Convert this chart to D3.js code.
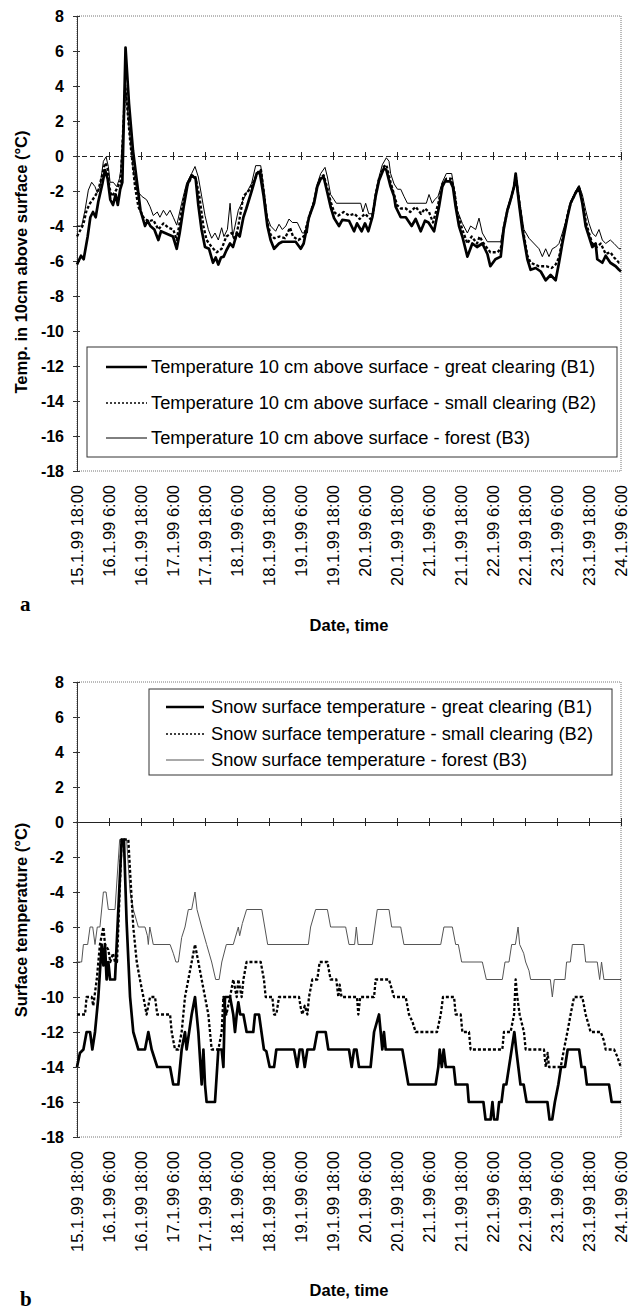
<!DOCTYPE html>
<html><head><meta charset="utf-8">
<script src="https://cdn.jsdelivr.net/npm/d3@7"></script>
<style>
body{margin:0;background:#fff}
svg text{font-family:"Liberation Sans",Arial,Helvetica,sans-serif;fill:#000}
</style>
</head><body>
<svg id="fig" width="632" height="1310"></svg>
<script>
// ---------- DATA ----------
const categories = ["15.1.99 18:00","16.1.99 6:00","16.1.99 18:00","17.1.99 6:00","17.1.99 18:00","18.1.99 6:00","18.1.99 18:00","19.1.99 6:00","19.1.99 18:00","20.1.99 6:00","20.1.99 18:00","21.1.99 6:00","21.1.99 18:00","22.1.99 6:00","22.1.99 18:00","23.1.99 6:00","23.1.99 18:00","24.1.99 6:00"];
const categoryHours = [0,12,24,36,48,60,72,84,96,108,120,132,144,156,168,180,192,204]; // hours after 15.1.99 18:00
const yTickValues = [8,6,4,2,0,-2,-4,-6,-8,-10,-12,-14,-16,-18];

const legendA = ["Temperature 10 cm above surface - great clearing (B1)","Temperature 10 cm above surface - small clearing (B2)","Temperature 10 cm above surface - forest (B3)"];
const legendB = ["Snow surface temperature - great clearing (B1)","Snow surface temperature - small clearing (B2)","Snow surface temperature - forest (B3)"];

// [hour, °C]  air temperature 10 cm above surface
const airB1 = [[0,-6.2],[1.5,-5.7],[2.5,-5.9],[4,-4.6],[5,-3.5],[6,-3.2],[7,-3.5],[8,-2.6],[9.5,-1.6],[10.5,-0.8],[11.5,-1.3],[12.5,-2.5],[13.5,-2.8],[14.5,-2.2],[15.3,-2.8],[16.2,-1.9],[17,-1.5],[18.2,6.2],[19.5,3.0],[21,0.3],[22.5,-1.5],[23.8,-3.1],[25.5,-4.0],[26.5,-3.7],[27.5,-4.0],[29,-4.2],[30.5,-4.8],[31.5,-4.3],[33,-4.4],[34.5,-4.5],[36,-4.6],[37.4,-5.3],[38.5,-4.4],[40,-2.9],[41.5,-1.6],[43,-1.1],[44.5,-1.3],[45.5,-2.8],[46.7,-4.2],[48,-5.2],[49.5,-5.3],[51,-6.1],[52,-5.8],[53,-6.2],[54,-5.8],[55,-5.75],[56,-5.4],[57.4,-5.0],[58.5,-5.2],[60,-4.4],[61,-4.6],[62.4,-3.5],[63.5,-3.0],[65.5,-2.0],[67.4,-1.0],[68.5,-0.9],[70,-2.3],[71.4,-4.0],[72.6,-4.8],[73.9,-5.3],[75.75,-5.0],[77,-4.9],[82,-4.9],[83.9,-5.3],[85,-5.0],[87,-3.5],[88.9,-2.7],[90.1,-1.75],[91.4,-1.3],[92.5,-1.2],[93.9,-2.1],[95.1,-2.9],[96.4,-3.55],[98.25,-4.0],[99.5,-3.65],[102,-3.7],[103.9,-4.3],[105,-3.85],[106.75,-4.3],[108,-3.85],[109.25,-4.3],[110.75,-3.5],[112,-2.3],[113.25,-1.4],[115.1,-0.7],[116,-0.8],[117.6,-1.75],[118.9,-2.3],[119.5,-2.9],[121.4,-3.5],[123.3,-3.5],[125.5,-4.0],[127,-3.6],[128.9,-4.3],[130.5,-3.7],[131.8,-3.8],[133.9,-4.3],[135.75,-2.9],[137,-1.75],[138,-1.45],[140,-1.45],[141,-1.8],[142,-2.9],[143.25,-4.0],[144.5,-4.6],[146.4,-5.75],[148.25,-5.0],[150,-5.2],[152,-5.0],[153.9,-5.6],[155,-6.3],[156.9,-5.9],[158.9,-5.75],[160,-4.2],[161.4,-3.1],[162.6,-2.5],[163.9,-1.75],[164.5,-1.0],[165.75,-2.7],[167,-4.2],[168.9,-5.9],[170.1,-6.5],[172,-6.4],[173.9,-6.6],[175.75,-7.1],[177.6,-6.8],[179.5,-7.1],[180.75,-6.1],[182,-5.0],[183.9,-3.5],[185.1,-2.7],[187,-2.1],[188.25,-1.8],[189.5,-2.7],[190.75,-4.0],[192,-4.6],[193.25,-5.2],[194.5,-5.0],[195.1,-5.9],[197,-6.1],[198.25,-5.7],[200,-6.1],[202,-6.3],[203.25,-6.5],[204,-6.6]];
const airB2 = [[0,-4.6],[2.4,-3.9],[3.6,-3.1],[4.9,-2.7],[6.75,-2.3],[8,-1.95],[9.25,-1.2],[10.5,-0.4],[11.4,-0.6],[12.1,-1.75],[13,-2.3],[14.1,-2.1],[15.4,-1.75],[16.4,-1.4],[18.1,4.05],[19.9,0.9],[21.75,-1.75],[23,-2.9],[24.9,-3.5],[26.75,-3.75],[28.6,-3.65],[30.5,-4.2],[32.4,-3.85],[34.25,-4.1],[36.1,-4.2],[37.4,-4.8],[39.25,-3.1],[41.1,-1.75],[43,-1.2],[44.25,-1.1],[45.9,-2.3],[47.4,-4.0],[48.6,-4.8],[50.5,-5.2],[52.4,-5.5],[54.25,-5.3],[56,-4.6],[58,-4.4],[59.25,-4.8],[60.5,-4.0],[62.4,-2.3],[64.9,-1.9],[66.75,-1.3],[68,-0.9],[69,-0.8],[70,-2.0],[71.4,-3.8],[72.6,-4.5],[74,-4.7],[76,-4.6],[78,-4.7],[79.9,-4.1],[81,-4.6],[83,-4.8],[85,-4.6],[87,-3.5],[88.9,-2.6],[90.1,-1.7],[91.4,-1.2],[92.5,-1.1],[94,-1.9],[95.1,-2.6],[96.4,-3.2],[98,-3.4],[100,-3.2],[102,-3.4],[104,-3.3],[106,-3.6],[108,-3.3],[110,-3.6],[111,-3.3],[112,-2.2],[113.25,-1.3],[115.1,-0.6],[116,-0.5],[117.6,-1.5],[118.9,-2.2],[120,-2.8],[121.4,-3.0],[123.3,-3.0],[125,-3.2],[127,-2.9],[129,-3.3],[130.5,-3.0],[132,-3.2],[133.5,-3.8],[135.5,-2.7],[137,-1.6],[138.5,-1.3],[140.3,-1.3],[141.5,-2.0],[142.6,-3.2],[144.5,-4.2],[146.4,-5.0],[148,-4.6],[150,-5.0],[151,-4.6],[152.5,-5.0],[155,-5.5],[157.7,-5.5],[158.9,-5.3],[160,-4.1],[161.4,-3.1],[162.6,-2.5],[163.9,-1.75],[164.5,-1.1],[165.75,-2.5],[167,-4.0],[168.9,-5.7],[170.1,-6.1],[173.25,-6.3],[176,-6.3],[178,-6.4],[179.5,-6.2],[180.75,-5.8],[182,-4.8],[183.9,-3.4],[185.1,-2.7],[187,-2.1],[188.25,-1.75],[189.5,-2.5],[190.75,-3.7],[192,-4.4],[193.25,-5.0],[195,-5.2],[196.4,-5.0],[198.25,-5.6],[200,-5.5],[201.4,-5.8],[203.25,-6.1],[204,-6.1]];
const airB3 = [[0,-4.0],[1.75,-4.0],[3,-3.1],[4.25,-1.95],[5.5,-1.5],[6.75,-1.75],[7.6,-2.1],[8.6,-1.75],[9.9,-0.3],[10.9,-0.05],[11.75,-0.6],[12.4,-1.5],[13.6,-1.5],[14.9,-1.75],[15.9,-1.3],[16.4,-0.8],[18.1,4.15],[19.6,1.5],[21.1,-0.8],[22.4,-1.95],[24.25,-2.3],[26.1,-2.5],[27.4,-2.9],[28.6,-3.4],[30.1,-3.2],[31.1,-3.5],[32.4,-3.1],[33.6,-3.4],[34.9,-3.1],[36.1,-3.5],[37.4,-3.95],[39.25,-2.7],[41.1,-1.55],[43,-1.0],[44.25,-0.6],[45.5,-1.2],[46.75,-2.3],[48,-3.4],[49.25,-4.2],[50.5,-4.7],[51.75,-4.4],[53,-4.8],[54.25,-4.1],[55.1,-4.6],[56.4,-4.2],[57.4,-2.7],[58.4,-4.6],[59.25,-4.0],[60.5,-3.1],[61.75,-2.7],[63.6,-2.1],[65.5,-1.55],[67,-0.55],[68.9,-0.55],[70,-1.8],[71.4,-3.5],[72.6,-4.0],[74.5,-4.3],[75.75,-3.9],[77,-4.2],[78.3,-4.0],[79.5,-3.6],[80.75,-3.8],[82.6,-3.8],[84.5,-4.4],[86.4,-4.4],[87,-3.5],[88.9,-2.5],[90.1,-1.6],[91.4,-1.0],[93,-0.65],[93.9,-1.2],[95.1,-2.2],[96.4,-2.5],[97.25,-2.7],[106.4,-2.7],[107.2,-3.2],[108.25,-2.7],[109.4,-3.3],[110.75,-3.3],[112,-2.1],[113.25,-1.2],[114.5,-0.5],[116,-0.1],[117,-0.3],[117.6,-1.0],[118.9,-1.6],[120.2,-1.9],[121.4,-1.9],[122.6,-2.3],[123.9,-2.7],[131,-2.7],[132,-2.2],[133.2,-2.7],[134.1,-2.5],[135.4,-2.3],[137,-1.5],[138.5,-1.0],[140.5,-1.0],[141.5,-1.9],[142.6,-3.1],[144.5,-3.85],[146.4,-4.4],[147.6,-4.0],[149.5,-4.2],[150.75,-3.55],[152,-4.4],[153.9,-4.9],[158.9,-4.9],[160,-4.0],[161.4,-3.0],[162.6,-2.4],[163.9,-1.7],[164.5,-1.0],[165.75,-2.3],[167,-3.6],[167.6,-4.2],[169.5,-4.7],[173.25,-5.3],[174.5,-5.75],[175.75,-5.3],[177,-5.75],[178.25,-5.3],[179.5,-5.2],[180.75,-5.0],[182,-4.4],[183.9,-3.4],[185.1,-2.6],[187,-2.0],[188.25,-1.7],[189.5,-2.2],[190.75,-3.1],[192,-3.85],[193.25,-4.4],[194.5,-4.6],[195.75,-4.2],[197,-4.8],[198.25,-5.0],[200,-4.8],[201.4,-5.0],[203.25,-5.3],[204,-5.3]];

// [hour, °C]  snow surface temperature
const snowB1 = [[0,-14],[1.1,-13.2],[2.4,-13],[3.6,-12],[4.9,-12],[5.75,-13],[6.75,-12],[8,-10],[9.25,-7],[9.9,-8.2],[10.5,-7],[11.1,-9],[11.75,-8],[12.4,-9],[14.25,-9],[16.75,-1],[17.6,-1],[18.6,-5.7],[19.9,-10],[21.1,-12],[23,-13],[25.5,-13],[26.75,-12],[28,-13],[30.1,-14],[34.9,-14],[36.1,-15],[38,-15],[39.25,-13],[40.5,-12],[41.1,-13],[43,-11],[44.25,-10],[45.5,-12],[46.75,-15],[47.4,-13],[48,-15],[48.6,-16],[51.75,-16],[53,-13],[54.25,-13],[54.9,-14],[55.5,-10],[57.4,-10],[58.6,-11],[59.25,-12],[59.9,-11],[60.5,-10.3],[61.2,-11],[62.4,-11],[63.6,-12],[66.1,-12],[66.75,-11],[68.25,-11],[70.1,-13],[71,-13.1],[72.25,-14],[73.9,-14],[74.75,-13],[81.4,-13],[82.6,-14],[83.5,-13],[84.5,-13],[85.4,-14],[86.4,-13],[88.9,-13],[90.1,-12],[93.25,-12],[94.25,-13],[102,-13],[103,-14],[103.9,-13],[104.8,-13],[105.75,-14],[110.1,-14],[111.4,-12],[113.25,-11],[114.5,-13],[115.1,-12],[115.75,-13],[122,-13],[124.25,-15],[134.5,-15],[135.5,-14],[136,-13],[136.8,-14],[137.5,-13],[138.3,-14],[141.3,-14],[142,-15],[146.4,-15],[146.9,-16],[152.4,-16],[153.2,-17],[155.1,-17],[155.8,-16],[156.4,-17],[157.6,-17],[158.3,-16],[159.2,-16],[160,-15],[161,-15],[162,-14],[163,-13],[164,-12],[164.7,-13],[165.5,-14],[166.3,-15],[167.5,-15],[168.6,-16],[176.4,-16],[177.2,-17],[178.2,-17],[179.2,-16],[180.5,-15],[181.5,-14],[183,-14],[184,-13],[188.3,-13],[189.2,-14],[190.4,-14],[191.2,-15],[199.5,-15],[200.5,-16],[204,-16]];
const snowB2 = [[0,-11],[3,-11],[3.6,-10],[5.5,-10],[6.1,-10.5],[7.4,-9],[8.6,-7],[9.9,-6],[10.5,-7],[11.75,-7.3],[12.5,-8],[13.5,-7.5],[14.25,-8],[15,-8],[16.75,-1],[19.25,-1],[19.9,-2.8],[21.1,-6],[22.4,-8],[23.6,-9],[24.9,-10],[26.1,-11],[27.4,-10],[29.25,-10],[30.1,-11],[34.9,-11],[35.5,-12],[36.75,-13],[38,-13],[39.25,-12],[40.5,-10],[41.75,-9],[43,-8],[44.25,-7],[45.5,-8],[46.75,-9],[48,-10],[49.25,-11],[50.5,-13],[53,-13],[54.25,-12],[54.9,-10],[56,-11],[57.4,-10],[58.6,-9],[59.9,-10],[60.5,-9],[61.75,-10],[62.4,-9],[63.6,-8],[68.9,-8],[70.1,-9],[70.75,-10],[73.25,-10],[73.9,-11],[74.75,-11],[75.75,-10],[83.25,-10],[83.9,-10.6],[84.5,-11],[85.4,-10.5],[86.4,-11],[87,-10],[88.25,-9],[90.1,-9],[91,-8],[93.9,-8],[95.1,-9],[97.25,-9],[98,-10],[98.5,-9.3],[99.2,-10],[105,-10],[105.5,-11],[106.2,-10],[111.4,-10],[112,-9],[117,-9],[118.9,-10],[123.25,-10],[124.5,-11],[125.75,-11.4],[127,-12],[135,-12],[136.4,-11],[137.25,-10],[141.4,-10],[142,-11],[143.9,-11],[144.5,-12],[147,-12],[147.6,-13],[159.5,-13],[160.1,-12],[162.6,-12],[163.9,-11],[164.5,-9],[165.1,-10],[166,-11],[167.6,-12],[168.25,-13],[175.1,-13],[175.8,-14],[176.5,-13.2],[177,-14],[181.4,-14],[182.6,-13],[183.9,-12],[185.1,-11],[186.4,-10],[189.5,-10],[190.75,-11],[192.6,-12],[196.4,-12],[197.6,-12.5],[198.25,-13],[201.4,-13],[202.6,-13.4],[203.9,-14],[204,-14]];
const snowB3 = [[0,-8],[1.75,-8],[2.4,-7],[4,-7],[4.9,-6],[5.9,-6],[6.75,-7],[7.6,-6],[8.6,-6],[9.9,-4],[10.9,-4],[11.75,-5],[14.25,-5],[16,-1],[18.6,-1],[19.9,-4],[21.1,-5],[23,-6],[25.5,-6],[26.4,-6.5],[26.75,-7],[27.3,-6],[28.6,-7],[34.9,-7],[36.1,-7.5],[37.1,-8],[38,-8],[39.25,-6.6],[40.5,-6],[41.75,-5],[43,-5],[44.25,-4],[45,-5],[46.75,-6],[48.6,-7],[50.5,-8],[52,-9],[53.3,-9],[54.3,-8],[56,-7],[58.6,-7],[60.5,-6],[61,-6.5],[62,-5.8],[63.6,-5],[69.3,-5],[71.5,-7],[86.75,-7],[87.6,-6],[89.5,-5],[93.9,-5],[95.1,-6],[100.75,-6],[102,-7],[104.1,-7],[104.75,-6],[105.4,-7],[110.75,-7],[112.6,-5],[117,-5],[118,-6],[121.4,-6],[122.6,-7],[136.4,-7],[137.6,-6],[140.75,-6],[142,-7],[143,-7],[144.25,-8],[152,-8],[153.5,-9],[159.5,-9],[160.5,-8],[162,-8],[163,-7],[164.4,-7],[165.4,-6],[166,-7],[167.5,-7.5],[168.25,-8],[169.5,-8.5],[170.1,-9],[177.5,-9],[178.25,-10],[179,-9],[183,-9],[183.6,-8],[185,-8],[185.75,-7],[190.1,-7],[190.75,-8],[195.1,-8],[196,-9],[196.7,-8],[197.6,-9],[204,-9]];

// ---------- DRAWING ----------
const svg = d3.select("#fig");
const X0 = 77, X1 = 621;

function panel(cfg){
  const x = d3.scaleLinear().domain([0,204]).range([X0,X1]);
  const y = d3.scaleLinear().domain([-18,8]).range([cfg.bottom,cfg.top]);
  const g = svg.append("g");

  // plot frame (dotted grey like the Excel plot area)
  g.append("rect").attr("x",X0).attr("y",cfg.top).attr("width",X1-X0).attr("height",cfg.bottom-cfg.top)
    .attr("fill","none").attr("stroke","#777").attr("stroke-width",1).attr("stroke-dasharray","1,1");

  // zero line with 12-h ticks
  const zero = g.append("g").attr("transform",`translate(0,${y(0)})`)
    .call(d3.axisBottom(x).tickValues(categoryHours).tickSize(4).tickFormat(""));
  zero.select(".domain").attr("stroke","#222").attr("stroke-dasharray",cfg.zeroDash||null);
  zero.selectAll(".tick line").attr("y1",-4).attr("y2",4).attr("stroke","#222");

  // y axis
  const ya = g.append("g").attr("transform",`translate(${X0},0)`)
    .call(d3.axisLeft(y).tickValues(yTickValues).tickSize(4).tickPadding(9).tickFormat(d=>String(d)));
  ya.select(".domain").attr("stroke","#333");
  ya.selectAll(".tick line").attr("x1",-4).attr("x2",3).attr("stroke","#333");
  ya.selectAll("text").style("font-size","16px").style("font-weight","bold");

  // x labels (rotated)
  const xa = g.append("g").attr("transform",`translate(0,${cfg.bottom})`)
    .call(d3.axisBottom(x).tickValues(categoryHours).tickSize(0).tickFormat((d,i)=>categories[i]));
  xa.select(".domain").remove();
  xa.selectAll("text").attr("transform","rotate(-90)").attr("x",-14).attr("y",0).attr("dy","0.36em")
    .attr("text-anchor","end").style("font-size","16.5px");

  // series
  const line = d3.line().x(d=>x(d[0])).y(d=>y(d[1]));
  const styles = [
    {w:2.7,dash:null,c:"#000"},
    {w:2.3,dash:"3,2",c:"#000"},
    {w:1.0,dash:null,c:cfg.thinColor}
  ];
  [2,1,0].forEach(i=>{
    g.append("path").datum(cfg.series[i]).attr("d",line).attr("fill","none")
      .attr("stroke",styles[i].c).attr("stroke-width",styles[i].w)
      .attr("stroke-dasharray",styles[i].dash).attr("stroke-linejoin","round");
  });

  // legend
  const L = cfg.legend;
  g.append("rect").attr("x",L.x).attr("y",L.y).attr("width",L.w).attr("height",L.h)
    .attr("fill","#fff").attr("stroke","#333").attr("stroke-width",1);
  cfg.labels.forEach((t,i)=>{
    const yy = L.rows[i];
    g.append("line").attr("x1",L.sx1).attr("x2",L.sx2).attr("y1",yy).attr("y2",yy)
      .attr("stroke",styles[i].c).attr("stroke-width",i===0?2.4:(i===1?1.6:1))
      .attr("stroke-dasharray",i===1?"2,2":null);
    g.append("text").attr("x",L.tx).attr("y",yy).attr("dy","0.35em").style("font-size","18.3px").text(t);
  });

  // axis titles
  g.append("text").attr("transform",`translate(${cfg.ytX},${cfg.ytY}) rotate(-90)`)
    .attr("text-anchor","middle").attr("dy","0.35em").style("font-size","16.5px").style("font-weight","bold").text(cfg.ytitle);
  g.append("text").attr("x",349).attr("y",cfg.dateY).attr("text-anchor","middle")
    .style("font-size","16.5px").style("font-weight","bold").text("Date, time");
  g.append("text").attr("x",20).attr("y",cfg.letterY)
    .style("font-family","'Liberation Serif','Times New Roman',serif").style("font-size","21px").style("font-weight","bold").text(cfg.letter);
}

panel({top:16,bottom:471,series:[airB1,airB2,airB3],thinColor:"#000",zeroDash:"5,3",
  labels:legendA,legend:{x:87,y:347,w:530,h:110,rows:[367,403,438],sx1:106,sx2:147,tx:151},
  ytitle:"Temp. in 10cm above surface (°C)",ytX:21,ytY:262,dateY:631,letter:"a",letterY:611});

panel({top:682,bottom:1137,series:[snowB1,snowB2,snowB3],thinColor:"#555",zeroDash:null,
  labels:legendB,legend:{x:149,y:689,w:463,h:86,rows:[707,734,760],sx1:166,sx2:204,tx:211},
  ytitle:"Surface temperature (°C)",ytX:21,ytY:920,dateY:1296,letter:"b",letterY:1306});
</script>
</body></html>
